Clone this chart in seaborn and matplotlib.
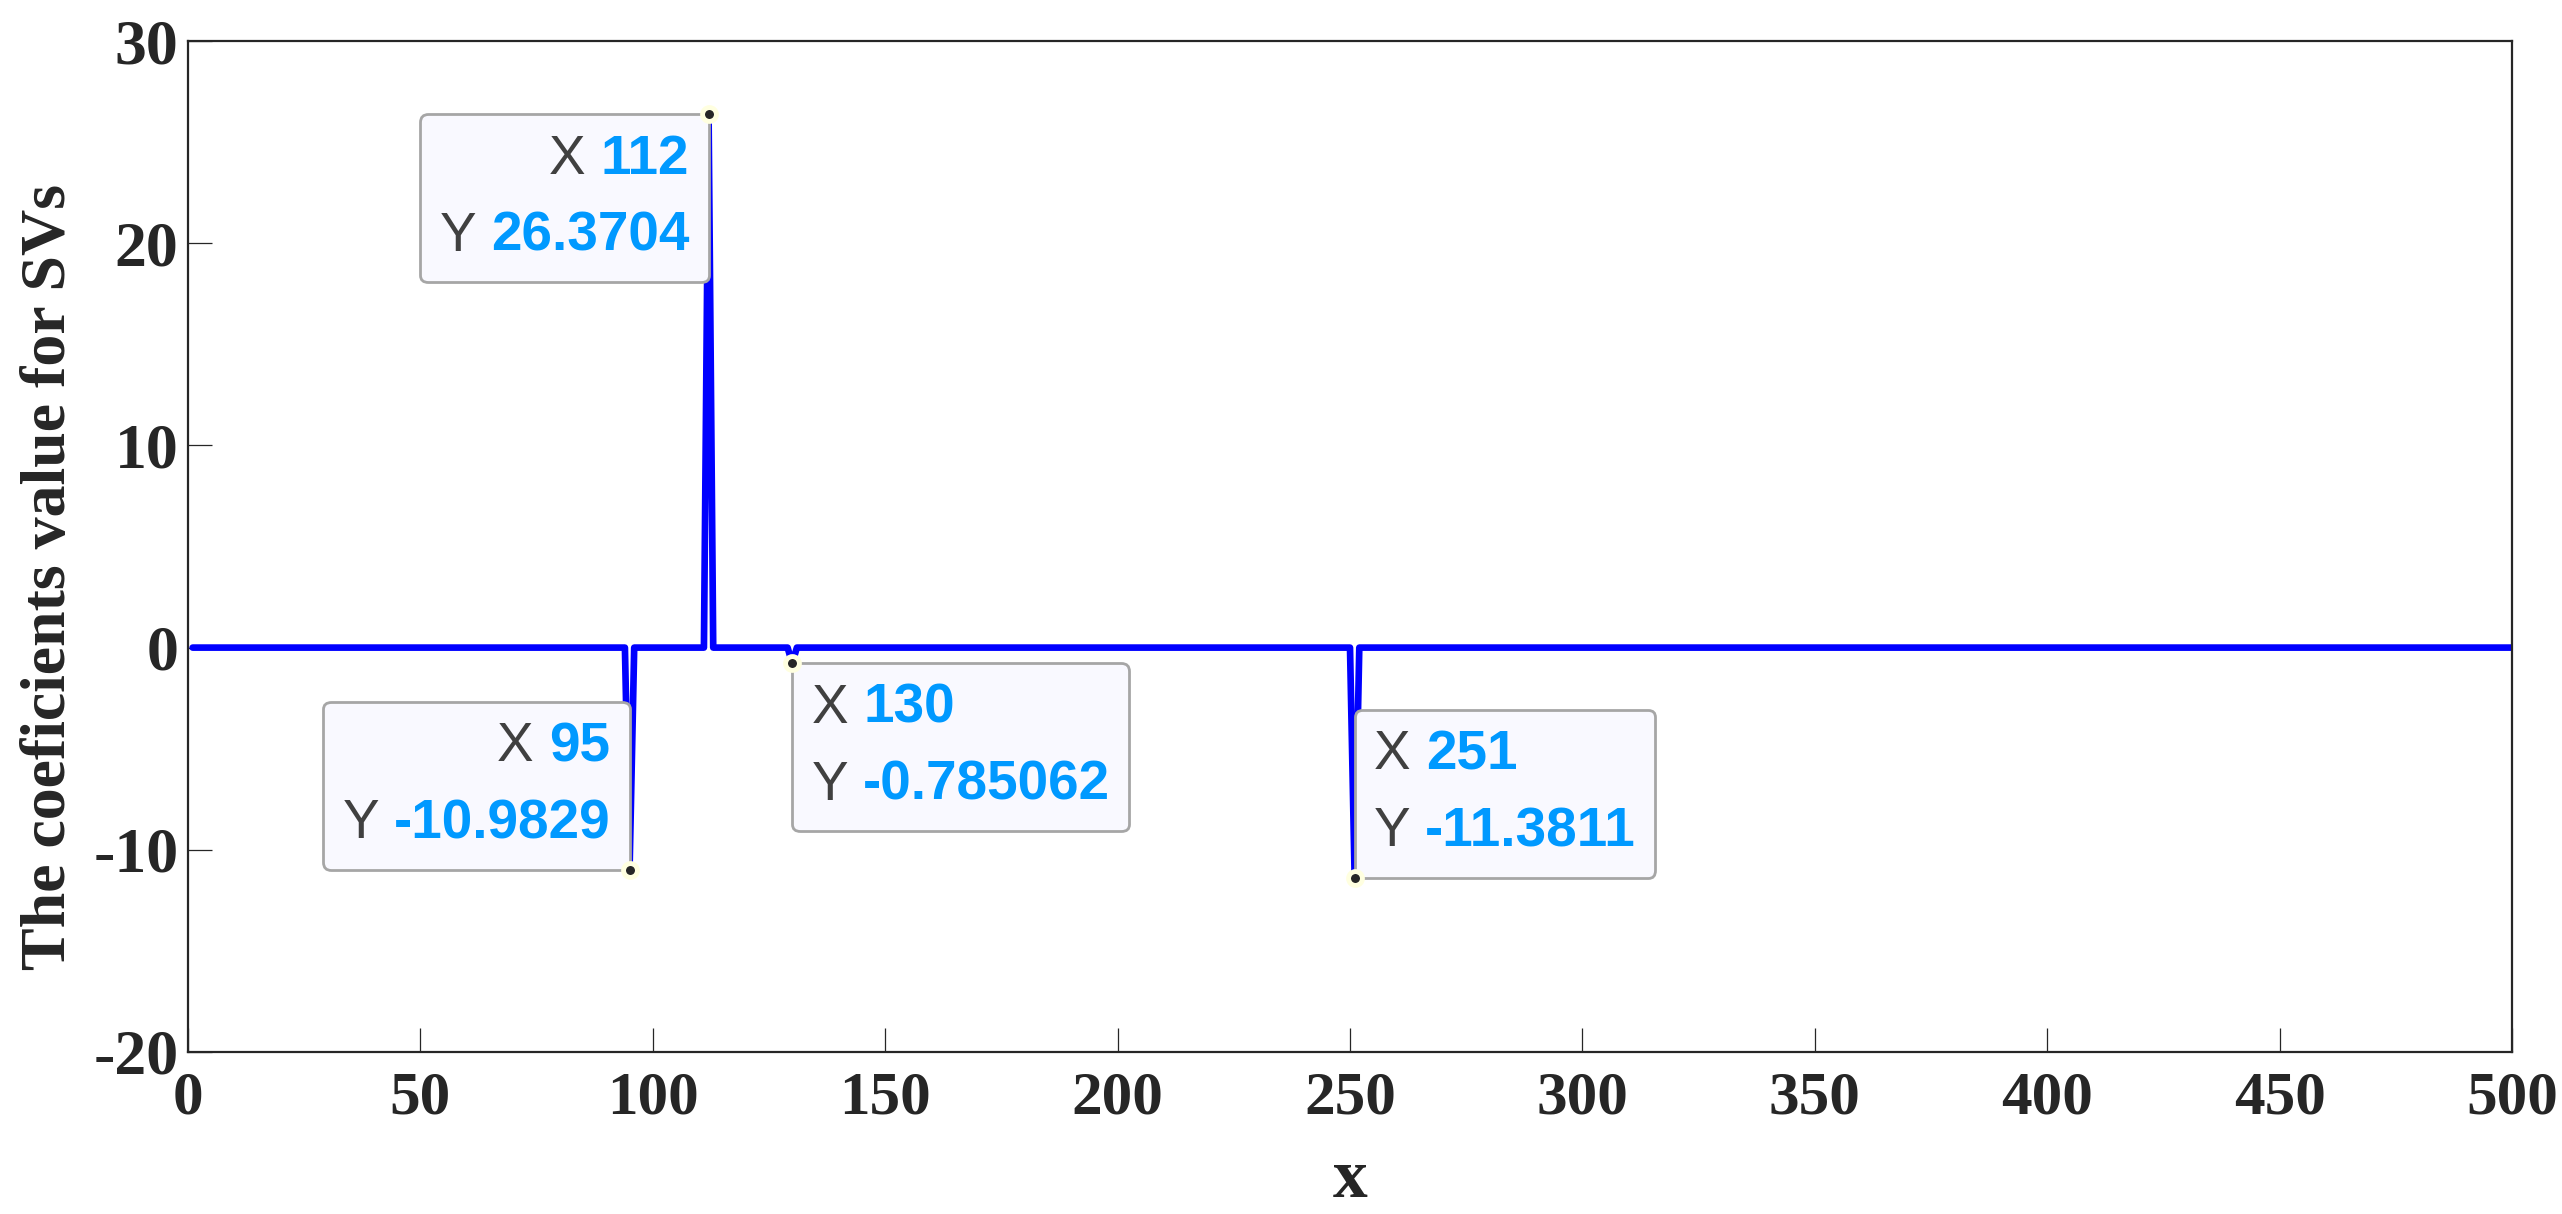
import numpy as np
import pandas as pd
import matplotlib
matplotlib.use("Agg")
import matplotlib.pyplot as plt
import seaborn as sns
from matplotlib.offsetbox import TextArea, HPacker, VPacker, AnnotationBbox

# ---- data ----
n_points = 500
spike_x = [95, 112, 130, 251]
spike_y = [-10.9829, 26.3704, -0.785062, -11.3811]
x_ticks = [0, 50, 100, 150, 200, 250, 300, 350, 400, 450, 500]
y_ticks = [-20, -10, 0, 10, 20, 30]
tip_x = [112, 95, 130, 251]
tip_y = [26.3704, -10.9829, -0.785062, -11.3811]
tip_y_text = ["26.3704", "-10.9829", "-0.785062", "-11.3811"]
tip_corner = [(1, 1), (1, 0), (0, 1), (0, 0)]   # which corner of box sits on the point

x_vals = np.arange(1, n_points + 1)
coef = np.zeros(n_points)
for sx, sy in zip(spike_x, spike_y):
    coef[sx - 1] = sy
df = pd.DataFrame({"x": x_vals, "coef": coef})

sns.set_theme(style="ticks")
plt.rcParams["font.family"] = ["Liberation Serif", "DejaVu Serif"]

fig = plt.figure(figsize=(25.62, 12.14), dpi=100)
ax = fig.add_axes([188 / 2562, 1 - 1052 / 1214, (2512 - 188) / 2562, (1052 - 41) / 1214])

sns.lineplot(data=df, x="x", y="coef", ax=ax, color="#0000FF", linewidth=4.8,
             estimator=None, sort=False)

ax.set_xlim(0, 500)
ax.set_ylim(-20, 30)
ax.set_xticks(x_ticks)
ax.set_yticks(y_ticks)
ax.set_xticklabels([str(t) for t in x_ticks])
ax.set_yticklabels([str(t) for t in y_ticks])

for side in ["left", "bottom", "top", "right"]:
    ax.spines[side].set_visible(True)
    ax.spines[side].set_color("#262626")
    ax.spines[side].set_linewidth(1.6)

ax.tick_params(axis="both", direction="in", length=17, width=0.9, color="#262626",
               labelcolor="#262626", top=False, right=False)
ax.tick_params(axis="x", pad=13, labelsize=44)
ax.tick_params(axis="y", pad=7, labelsize=46)
for lab in ax.get_xticklabels() + ax.get_yticklabels():
    lab.set_fontweight("bold")

ax.set_xlabel("x", fontsize=50, fontweight="bold", color="#262626", va="baseline")
ax.set_ylabel("The coeficients value for SVs", fontsize=46, fontweight="bold", color="#262626")
ax.yaxis.set_label_coords(-0.047, 0.47)
ax.xaxis.set_label_coords(0.5, -0.143)

# ---- data tips ----
lab_props = dict(fontfamily="Liberation Sans", fontsize=39.5, color="#404040")
val_props = dict(fontfamily="Liberation Sans", fontsize=39.5, color="#0099FF", fontweight="bold")

ax.plot(tip_x, tip_y, linestyle="none", marker="o", markersize=10,
        markerfacecolor="#262626", markeredgecolor="#FFFFE0", markeredgewidth=3.5, zorder=6)

for tx, ty, tyt, corner in zip(tip_x, tip_y, tip_y_text, tip_corner):
    row1 = HPacker(children=[TextArea("X ", textprops=lab_props),
                             TextArea(str(tx), textprops=val_props)], pad=0, sep=0)
    row2 = HPacker(children=[TextArea("Y ", textprops=lab_props),
                             TextArea(tyt, textprops=val_props)], pad=0, sep=0)
    align = "right" if corner[0] == 1 else "left"
    box = VPacker(children=[row1, row2], align=align, pad=14, sep=18)
    ab = AnnotationBbox(box, (tx, ty), xybox=(tx, ty), xycoords="data",
                        box_alignment=corner, pad=0, frameon=True,
                        bboxprops=dict(boxstyle="round,pad=0,rounding_size=0.5",
                                       facecolor="#F9F9FF", edgecolor="#A6A6A6", linewidth=2),
                        zorder=5)
    ax.add_artist(ab)

fig.savefig("out.png", dpi=100)
